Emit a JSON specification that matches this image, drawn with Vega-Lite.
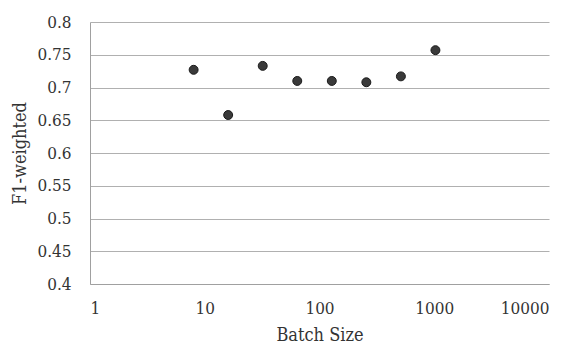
{
  "$schema": "https://vega.github.io/schema/vega-lite/v6.json",
  "width": 459,
  "height": 262,
  "autosize": {"type": "none"},
  "padding": {"left": 90, "top": 22, "right": 26, "bottom": 60},
  "background": "white",
  "config": {
    "view": {"stroke": null},
    "axis": {
      "labelFont": "DejaVu Serif Condensed",
      "titleFont": "DejaVu Serif Condensed",
      "labelColor": "#333333",
      "titleColor": "#333333",
      "labelFontSize": 17,
      "titleFontSize": 18,
      "titleFontWeight": "normal",
      "ticks": false,
      "domainColor": "#a0a0a0",
      "gridColor": "#b0b0b0",
      "gridWidth": 1.2
    }
  },
  "data": {
    "values": [
      {"batch": 8, "f1": 0.727},
      {"batch": 16, "f1": 0.658},
      {"batch": 32, "f1": 0.733},
      {"batch": 64, "f1": 0.71},
      {"batch": 128, "f1": 0.71},
      {"batch": 256, "f1": 0.708},
      {"batch": 512, "f1": 0.717},
      {"batch": 1024, "f1": 0.757}
    ]
  },
  "mark": {"type": "point", "filled": true, "size": 80, "color": "#3a3a3a", "opacity": 1, "stroke": "#1a1a1a", "strokeWidth": 1},
  "encoding": {
    "x": {
      "field": "batch",
      "type": "quantitative",
      "scale": {"type": "log", "domain": [1, 10000], "nice": false},
      "axis": {"title": "Batch Size", "grid": false, "values": [1, 10, 100, 1000, 10000], "format": "d", "labelPadding": 16, "titlePadding": 10}
    },
    "y": {
      "field": "f1",
      "type": "quantitative",
      "scale": {"domain": [0.4, 0.8], "nice": false, "zero": false},
      "axis": {"title": "F1-weighted", "values": [0.4, 0.45, 0.5, 0.55, 0.6, 0.65, 0.7, 0.75, 0.8], "format": "~g", "labelPadding": 19, "titlePadding": 7}
    }
  }
}
